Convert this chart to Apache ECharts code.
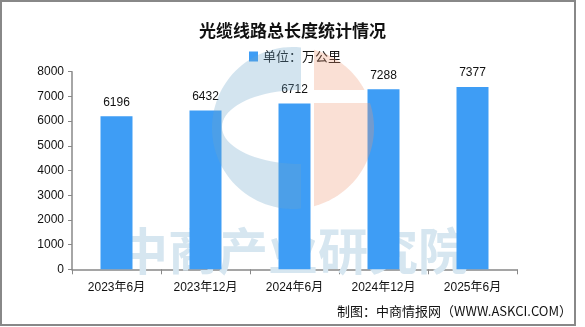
<!DOCTYPE html>
<html>
<head>
<meta charset="utf-8">
<script src="https://cdn.jsdelivr.net/npm/echarts@6/dist/echarts.min.js"></script>
<style>html,body{margin:0;padding:0;background:#fff;}#c{width:585px;height:327px;}</style>
</head>
<body>
<div id="c"></div>
<script>
const categories = ['2023年6月', '2023年12月', '2024年6月', '2024年12月', '2025年6月'];
const values = [6196, 6432, 6712, 7288, 7377];
const yTicks = [0, 1000, 2000, 3000, 4000, 5000, 6000, 7000, 8000];
const titleText = '光缆线路总长度统计情况';
const seriesName = '单位：万公里';
const footerText = '制图：中商情报网（WWW.ASKCI.COM）';
const watermarkText = '中商产业研究院';

// decorative logo watermark geometry (not data)
function arcPts(cx, cy, rx, ry, a0, a1, n) {
  const pts = [];
  for (let i = 0; i <= n; i++) {
    const a = a0 + (a1 - a0) * i / n;
    pts.push([cx + rx * Math.cos(a), cy + ry * Math.sin(a)]);
  }
  return pts;
}
const LCX = 293, LCY = 128, LR = 81;
function angAtX(x, upper) { const a = Math.acos((x - LCX) / LR); return upper ? -a : a; }
function angAtY(y, right) { const s = Math.asin((y - LCY) / LR); return right ? s : Math.PI - s; }
const bluePts = [].concat(
  arcPts(LCX, LCY, LR, LR, 2 * Math.PI + angAtX(301, true), angAtX(301, false), 60),
  arcPts(301, 127, 79, 37, Math.PI / 2, 3 * Math.PI / 2, 40)
);
const peachTop = [].concat(arcPts(LCX, LCY, LR, LR, angAtX(314, true), angAtY(90, true), 20), [[314, 90]]);
const peachBot = [].concat([[314, 103]], arcPts(LCX, LCY, LR, LR, angAtY(103, true), angAtX(314, false), 40));

const FONT = '"Liberation Sans", "Noto Sans CJK SC", sans-serif';
const chart = echarts.init(document.getElementById('c'), null, {renderer: 'canvas'});
chart.setOption({
  animation: false,
  backgroundColor: '#fff',
  textStyle: {fontFamily: FONT},
  title: {
    text: titleText, left: 'center', top: 17,
    textStyle: {fontSize: 17, fontWeight: 'bold', color: '#111', fontFamily: '"Noto Sans CJK SC", sans-serif'}
  },
  legend: {
    data: [seriesName], left: 244, top: 45, itemWidth: 9, itemHeight: 10, itemGap: 5,
    icon: 'rect',
    textStyle: {fontSize: 13, color: '#111', fontFamily: '"Noto Sans CJK SC", sans-serif'}
  },
  grid: {left: 72, right: 68, top: 71.7, bottom: 57.7, containLabel: false},
  xAxis: {
    type: 'category', data: categories,
    axisLine: {lineStyle: {color: '#888', width: 1.5}},
    axisTick: {show: true, length: 5, lineStyle: {color: '#888'}},
    axisLabel: {fontSize: 12, color: '#111', margin: 12, fontFamily: FONT}
  },
  yAxis: {
    type: 'value', min: yTicks[0], max: yTicks[yTicks.length - 1], interval: 1000,
    axisLine: {show: true, lineStyle: {color: '#888', width: 1.5}},
    axisTick: {show: true, length: 4, lineStyle: {color: '#888'}},
    splitLine: {show: false},
    axisLabel: {fontSize: 12, color: '#111', margin: 8, fontFamily: FONT, formatter: v => String(v)}
  },
  series: [{
    name: seriesName, type: 'bar', data: values, barWidth: 32, z: 3,
    itemStyle: {color: '#3E9DF5'},
    label: {show: true, position: 'top', distance: 8, fontSize: 12, color: '#111', fontFamily: FONT}
  }],
  graphic: {
    elements: [
      {type: 'text', z: 1, x: 118, y: 226, style: {text: watermarkText, fill: '#d6e6f0', font: 'bold 50px "Noto Sans CJK SC", sans-serif'}},
      {type: 'polygon', z: 100, shape: {points: bluePts}, style: {fill: 'rgba(108,165,202,0.3)'}},
      {type: 'polygon', z: 100, shape: {points: peachTop}, style: {fill: 'rgba(238,152,115,0.3)'}},
      {type: 'polygon', z: 100, shape: {points: peachBot}, style: {fill: 'rgba(238,152,115,0.3)'}},
      {type: 'text', z: 100, right: 13, top: 305, style: {text: footerText, fill: '#111', font: '13px "Noto Sans CJK SC", sans-serif'}},
      {type: 'rect', z: 100, shape: {x: 1, y: 1, width: 574, height: 324}, style: {fill: 'none', stroke: '#888', lineWidth: 2}}
    ]
  }
});
</script>
</body>
</html>
